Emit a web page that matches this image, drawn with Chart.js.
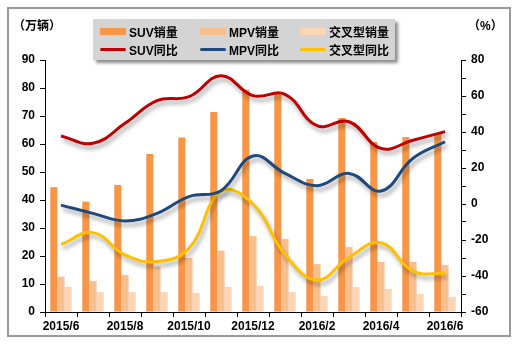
<!DOCTYPE html>
<html>
<head>
<meta charset="utf-8">
<script src="https://cdn.jsdelivr.net/npm/chart.js@4/dist/chart.umd.min.js"></script>
<style>
  html, body { margin: 0; padding: 0; background: #fff; }
  #wrap { position: relative; width: 516px; height: 344px; }
  #frame { position: absolute; left: 7px; top: 7px; width: 500px; height: 326px; border: 2px solid #9a9a9a; pointer-events: none; }
  .unit { position: absolute; top: 16px; font: bold 12px "Liberation Sans", "Noto Sans CJK SC", sans-serif; color: #000; }
  #legend { position: absolute; left: 93px; top: 19px; width: 302px; height: 41px; background: #d4d4d4; box-shadow: 3px 3px 3px rgba(0,0,0,0.45); }
  .item { position: absolute; height: 16px; display: flex; align-items: center; font: bold 12px "Liberation Sans", "Noto Sans CJK SC", sans-serif; color: #000; white-space: nowrap; }
  .mark { width: 26px; margin-right: 3px; }
</style>
</head>
<body>
<div id="wrap">
  <canvas id="chart" width="516" height="344"></canvas>
  <div class="unit" style="left:13px">（万辆）</div>
  <div class="unit" style="left:468px">（%）</div>
  <div id="legend"></div>
  <div id="frame"></div>
</div>
<script>
const months = ["2015/6", "2015/7", "2015/8", "2015/9", "2015/10", "2015/11", "2015/12", "2016/1", "2016/2", "2016/3", "2016/4", "2016/5", "2016/6"];

// 销量 (万辆)
const suvSales = [44.6, 39.4, 45.4, 56.4, 62.3, 71.4, 79.4, 78.1, 47.5, 69.3, 60.7, 62.5, 63.6];
const mpvSales = [12.6, 11.1, 13.2, 16.2, 19.3, 21.9, 27.1, 26.1, 17.1, 23.2, 17.9, 17.9, 16.8];
const crossSales = [9.0, 7.1, 7.1, 7.1, 6.8, 9.0, 9.3, 7.1, 5.7, 8.9, 8.2, 6.4, 5.4];

// 同比 (%)
const suvYoY = [37.8, 33.7, 44.8, 57.4, 59.6, 71.3, 60.2, 60.9, 43.5, 45.7, 30.9, 35.4, 40.2];
const mpvYoY = [-0.6, -5.2, -9.4, -5.2, 4.1, 7.4, 26.7, 17.0, 10.2, 17.0, 7.2, 25.4, 34.6];
const crossYoY = [-22.4, -15.9, -28.3, -32.0, -24.6, 7.0, 0.0, -28.0, -42.2, -29.6, -21.5, -37.3, -38.5];

const tickFont = { family: "'Liberation Sans', Arial, sans-serif", size: 12, weight: "bold" };

const lineShadow = {
  id: "lineShadow",
  beforeDatasetDraw(chart, args) {
    if (chart.data.datasets[args.index].type !== "line") return;
    const ctx = chart.ctx;
    ctx.save();
    ctx.shadowColor = "rgba(0,0,0,0.35)";
    ctx.shadowBlur = 4;
    ctx.shadowOffsetX = 2;
    ctx.shadowOffsetY = 4;
  },
  afterDatasetDraw(chart, args) {
    if (chart.data.datasets[args.index].type !== "line") return;
    chart.ctx.restore();
  }
};

function barSet(label, data, color) {
  return { type: "bar", label, data, backgroundColor: color, borderWidth: 0, yAxisID: "y", order: 2,
    categoryPercentage: 0.67, barPercentage: 1.0 };
}
function lineSet(label, data, color) {
  return { type: "line", label, data, borderColor: color, backgroundColor: color, borderWidth: 3,
    pointRadius: 0, tension: 0.42, yAxisID: "y1", order: 1 };
}

const chart = new Chart(document.getElementById("chart"), {
  data: {
    labels: months,
    datasets: [
      barSet("SUV销量", suvSales, "#f79646"),
      barSet("MPV销量", mpvSales, "#fabf8f"),
      barSet("交叉型销量", crossSales, "#fcd5b4"),
      lineSet("SUV同比", suvYoY, "#c00000"),
      lineSet("MPV同比", mpvYoY, "#1f497d"),
      lineSet("交叉型同比", crossYoY, "#ffc000")
    ]
  },
  options: {
    responsive: false,
    animation: false,
    layout: { padding: { top: 60, left: 0, right: 0, bottom: 0 } },
    plugins: { legend: { display: false }, tooltip: { enabled: false } },
    scales: {
      x: {
        offset: true,
        grid: { offset: true, drawOnChartArea: false, drawTicks: true, tickLength: 5, color: "#000" },
        border: { color: "#000", width: 1 },
        ticks: {
          autoSkip: false, maxRotation: 0, padding: 2, color: "#000", font: tickFont,
          callback: (v, i) => (i % 2 === 0 ? months[i] : "")
        },
        afterFit: s => { s.height = 32; }
      },
      y: {
        position: "left", min: 0, max: 90,
        grid: { drawOnChartArea: false, tickLength: 5, color: "#000" },
        border: { color: "#000", width: 1 },
        ticks: { stepSize: 5, padding: 5, color: "#000", font: tickFont,
          callback: v => (v % 10 === 0 ? v : "") },
        afterFit: s => { s.width = 45; }
      },
      y1: {
        position: "right", min: -60, max: 80,
        grid: { drawOnChartArea: false, tickLength: 5, color: "#000" },
        border: { color: "#000", width: 1 },
        ticks: { stepSize: 10, padding: 5, color: "#000", font: tickFont,
          callback: v => (v % 20 === 0 ? v : "") },
        afterFit: s => { s.width = 55; }
      }
    }
  },
  plugins: [lineShadow]
});

// legend, built from the datasets
const legend = document.getElementById("legend");
chart.data.datasets.forEach((ds, i) => {
  const item = document.createElement("div");
  item.className = "item";
  item.style.left = (7 + (i % 3) * 100) + "px";
  item.style.top = (4 + Math.floor(i / 3) * 18) + "px";
  const mark = document.createElement("span");
  mark.className = "mark";
  mark.style.height = ds.type === "bar" ? "7px" : "3px";
  mark.style.background = ds.type === "bar" ? ds.backgroundColor : ds.borderColor;
  mark.style.borderRadius = ds.type === "bar" ? "0" : "2px";
  item.appendChild(mark);
  item.appendChild(document.createTextNode(ds.label));
  legend.appendChild(item);
});
</script>
</body>
</html>
